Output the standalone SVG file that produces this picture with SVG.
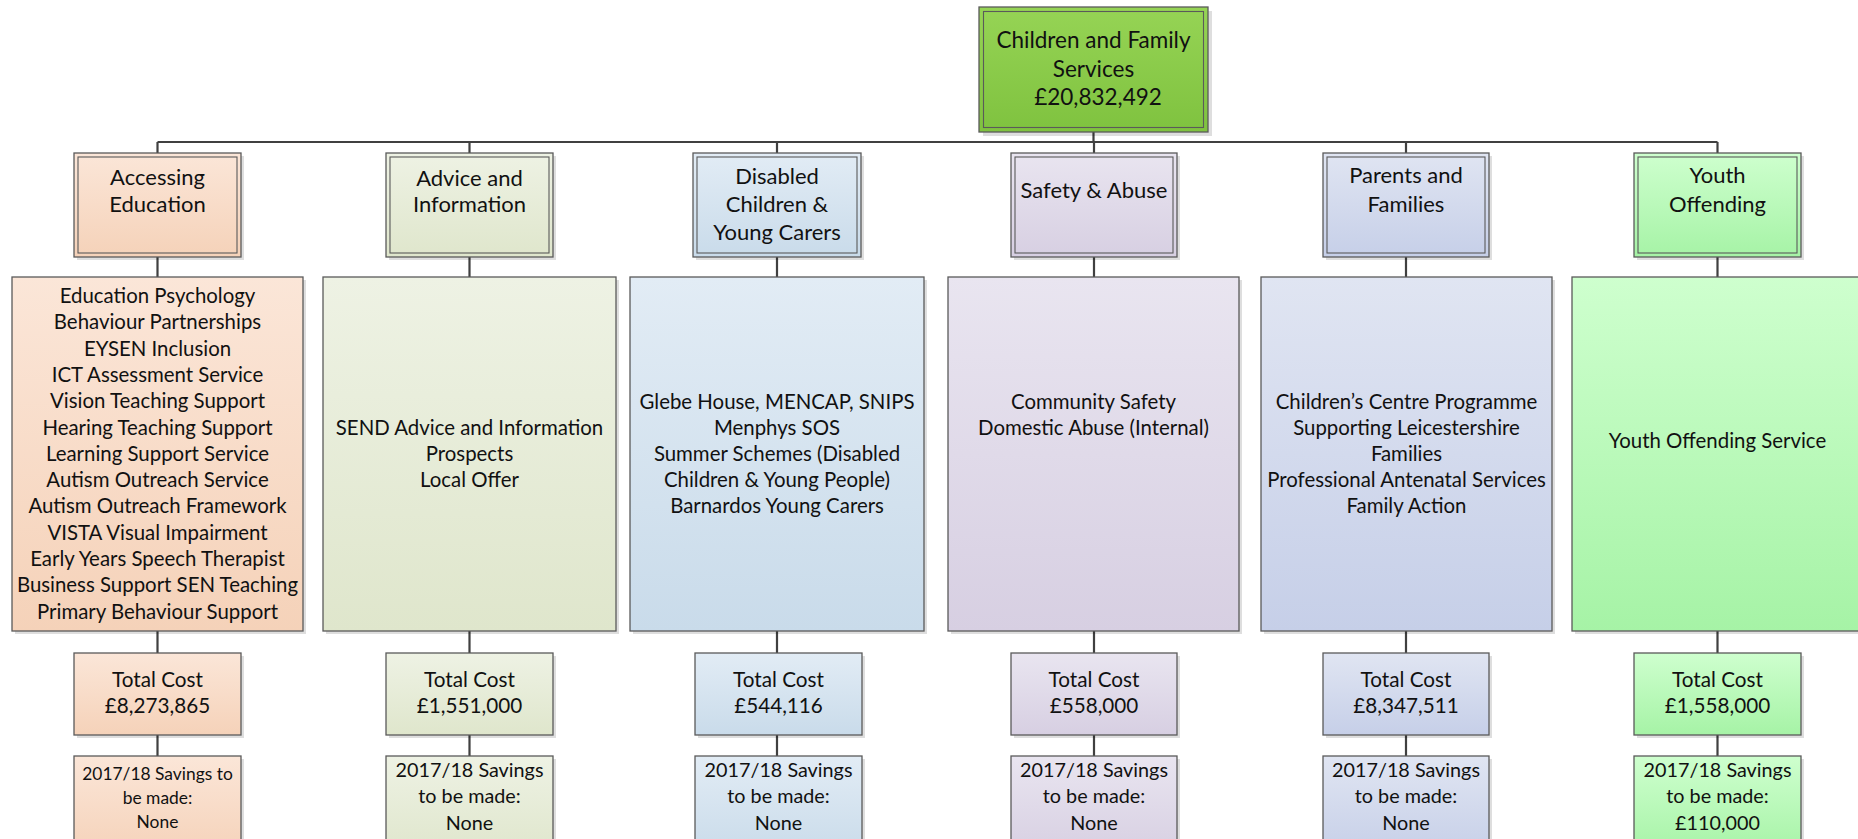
<svg xmlns="http://www.w3.org/2000/svg" width="1858" height="839" viewBox="0 0 1858 839">
  <style>
    .sh { fill: #000; opacity: 0.13; }
    .bx { stroke: #5a5a5a; stroke-width: 1.3; }
    .in { fill: none; stroke: #5a5a5a; stroke-width: 1.1; }
    .ln { stroke: #404040; stroke-width: 2.2; fill: none; }
    text { font-family: Lato, "Open Sans", sans-serif; font-size: 20.4px; fill: #111; text-anchor: middle; }
    .hd { font-size: 22px; }
    .tc { font-size: 20.7px; }
    .sm { font-size: 17.4px; }
    .sv { font-size: 19.8px; }
  </style>
  <defs>
    <linearGradient id="gTop" x1="0" y1="0" x2="0" y2="1"><stop offset="0" stop-color="#96d455"/><stop offset="1" stop-color="#7fc23f"/></linearGradient>
    <linearGradient id="gEdu" x1="0" y1="0" x2="0" y2="1"><stop offset="0" stop-color="#fbe6d8"/><stop offset="1" stop-color="#f5d2b9"/></linearGradient>
    <linearGradient id="gAdv" x1="0" y1="0" x2="0" y2="1"><stop offset="0" stop-color="#eef2e4"/><stop offset="1" stop-color="#dfe6cc"/></linearGradient>
    <linearGradient id="gDis" x1="0" y1="0" x2="0" y2="1"><stop offset="0" stop-color="#e2ecf5"/><stop offset="1" stop-color="#c9dbea"/></linearGradient>
    <linearGradient id="gSaf" x1="0" y1="0" x2="0" y2="1"><stop offset="0" stop-color="#e9e5f0"/><stop offset="1" stop-color="#d7cfe2"/></linearGradient>
    <linearGradient id="gPar" x1="0" y1="0" x2="0" y2="1"><stop offset="0" stop-color="#e0e5f2"/><stop offset="1" stop-color="#c6cfe8"/></linearGradient>
    <linearGradient id="gYou" x1="0" y1="0" x2="0" y2="1"><stop offset="0" stop-color="#ceffce"/><stop offset="1" stop-color="#a6f3a6"/></linearGradient>
  </defs>

  <rect width="1858" height="839" fill="#fff"/>

  <!-- connectors -->
  <g id="connectors">
    <line class="ln" x1="1093.5" y1="132" x2="1093.5" y2="142"/>
    <line class="ln" x1="157.5" y1="142" x2="1717.5" y2="142"/>
    <line class="ln" x1="157.5" y1="142" x2="157.5" y2="153"/>
    <line class="ln" x1="469.5" y1="142" x2="469.5" y2="153"/>
    <line class="ln" x1="777" y1="142" x2="777" y2="153"/>
    <line class="ln" x1="1094" y1="142" x2="1094" y2="153"/>
    <line class="ln" x1="1406" y1="142" x2="1406" y2="153"/>
    <line class="ln" x1="1717.5" y1="142" x2="1717.5" y2="153"/>
    <!-- category to detail / total / savings -->
    <path class="ln" d="M157.5 257V277M157.5 631V653M157.5 735V756"/>
    <path class="ln" d="M469.5 257V277M469.5 631V653M469.5 735V756"/>
    <path class="ln" d="M777 257V277M777 631V653M777 735V756"/>
    <path class="ln" d="M1094 257V277M1094 631V653M1094 735V756"/>
    <path class="ln" d="M1406 257V277M1406 631V653M1406 735V756"/>
    <path class="ln" d="M1717.5 257V277M1717.5 631V653M1717.5 735V756"/>
  </g>

  <!-- root -->
  <g id="root">
    <rect class="sh" x="983" y="11" width="229" height="125"/>
    <rect class="bx" x="979" y="7" width="229" height="125" fill="url(#gTop)"/>
    <rect class="in" x="983.5" y="11.5" width="220" height="116"/>
    <text x="1093.5" y="48" style="font-size:22.5px">Children and Family</text>
    <text x="1093.5" y="77" style="font-size:22.5px">Services</text>
    <text x="1098" y="105" style="font-size:22.5px">£20,832,492</text>
  </g>

  <!-- Accessing Education -->
  <g id="edu">
    <rect class="sh" x="77" y="156" width="167" height="104"/>
    <rect class="bx" x="74" y="153" width="167" height="104" fill="url(#gEdu)"/>
    <rect class="in" x="78" y="157" width="159" height="96"/>
    <text class="hd" x="157.5" y="185">Accessing</text>
    <text class="hd" x="157.5" y="212">Education</text>
  </g>
  <g id="edu-detail">
    <rect class="sh" x="15" y="280" width="291" height="354"/>
    <rect class="bx" x="12" y="277" width="291" height="354" fill="url(#gEdu)"/>
    <text x="157.5" y="303">Education Psychology</text>
    <text x="157.5" y="329.3">Behaviour Partnerships</text>
    <text x="157.5" y="355.6">EYSEN Inclusion</text>
    <text x="157.5" y="381.9">ICT Assessment Service</text>
    <text x="157.5" y="408.2">Vision Teaching Support</text>
    <text x="157.5" y="434.5">Hearing Teaching Support</text>
    <text x="157.5" y="460.8">Learning Support Service</text>
    <text x="157.5" y="487.1">Autism Outreach Service</text>
    <text x="157.5" y="513.4">Autism Outreach Framework</text>
    <text x="157.5" y="539.7">VISTA Visual Impairment</text>
    <text x="157.5" y="566">Early Years Speech Therapist</text>
    <text x="157.5" y="592.3">Business Support SEN Teaching</text>
    <text x="157.5" y="618.6">Primary Behaviour Support</text>
  </g>
  <g id="edu-cost">
    <rect class="sh" x="77" y="656" width="167" height="82"/>
    <rect class="bx" x="74" y="653" width="167" height="82" fill="url(#gEdu)"/>
    <text class="tc" x="157.5" y="687">Total Cost</text>
    <text class="tc" x="157.5" y="713">£8,273,865</text>
  </g>
  <g id="edu-savings">
    <rect class="sh" x="77" y="759" width="167" height="100"/>
    <rect class="bx" x="74" y="756" width="167" height="100" fill="url(#gEdu)"/>
    <text class="sm" x="157.5" y="780">2017/18 Savings to</text>
    <text class="sm" x="157.5" y="804">be made:</text>
    <text class="sm" x="157.5" y="828">None</text>
  </g>

  <!-- Advice and Information -->
  <g id="adv">
    <rect class="sh" x="389" y="156" width="167" height="104"/>
    <rect class="bx" x="386" y="153" width="167" height="104" fill="url(#gAdv)"/>
    <rect class="in" x="390" y="157" width="159" height="96"/>
    <text class="hd" x="469.5" y="186">Advice and</text>
    <text class="hd" x="469.5" y="212">Information</text>
  </g>
  <g id="adv-detail">
    <rect class="sh" x="326" y="280" width="293" height="354"/>
    <rect class="bx" x="323" y="277" width="293" height="354" fill="url(#gAdv)"/>
    <text x="469.5" y="435">SEND Advice and Information</text>
    <text x="469.5" y="461">Prospects</text>
    <text x="469.5" y="487">Local Offer</text>
  </g>
  <g id="adv-cost">
    <rect class="sh" x="389" y="656" width="167" height="82"/>
    <rect class="bx" x="386" y="653" width="167" height="82" fill="url(#gAdv)"/>
    <text class="tc" x="469.5" y="687">Total Cost</text>
    <text class="tc" x="469.5" y="713">£1,551,000</text>
  </g>
  <g id="adv-savings">
    <rect class="sh" x="389" y="759" width="167" height="100"/>
    <rect class="bx" x="386" y="756" width="167" height="100" fill="url(#gAdv)"/>
    <text class="sv" x="469.5" y="777">2017/18 Savings</text>
    <text class="sv" x="469.5" y="803">to be made:</text>
    <text class="sv" x="469.5" y="830">None</text>
  </g>

  <!-- Disabled Children & Young Carers -->
  <g id="dis">
    <rect class="sh" x="696" y="156" width="168" height="104"/>
    <rect class="bx" x="693" y="153" width="168" height="104" fill="url(#gDis)"/>
    <rect class="in" x="697" y="157" width="160" height="96"/>
    <text class="hd" x="777" y="184">Disabled</text>
    <text class="hd" x="777" y="212">Children &amp;</text>
    <text class="hd" x="777" y="240">Young Carers</text>
  </g>
  <g id="dis-detail">
    <rect class="sh" x="633" y="280" width="294" height="354"/>
    <rect class="bx" x="630" y="277" width="294" height="354" fill="url(#gDis)"/>
    <text x="777" y="409">Glebe House, MENCAP, SNIPS</text>
    <text x="777" y="435">Menphys SOS</text>
    <text x="777" y="461">Summer Schemes (Disabled</text>
    <text x="777" y="487">Children &amp; Young People)</text>
    <text x="777" y="513">Barnardos Young Carers</text>
  </g>
  <g id="dis-cost">
    <rect class="sh" x="698" y="656" width="167" height="82"/>
    <rect class="bx" x="695" y="653" width="167" height="82" fill="url(#gDis)"/>
    <text class="tc" x="778.5" y="687">Total Cost</text>
    <text class="tc" x="778.5" y="713">£544,116</text>
  </g>
  <g id="dis-savings">
    <rect class="sh" x="698" y="759" width="167" height="100"/>
    <rect class="bx" x="695" y="756" width="167" height="100" fill="url(#gDis)"/>
    <text class="sv" x="778.5" y="777">2017/18 Savings</text>
    <text class="sv" x="778.5" y="803">to be made:</text>
    <text class="sv" x="778.5" y="830">None</text>
  </g>

  <!-- Safety & Abuse -->
  <g id="saf">
    <rect class="sh" x="1014" y="156" width="166" height="104"/>
    <rect class="bx" x="1011" y="153" width="166" height="104" fill="url(#gSaf)"/>
    <rect class="in" x="1015" y="157" width="158" height="96"/>
    <text class="hd" x="1094" y="198">Safety &amp; Abuse</text>
  </g>
  <g id="saf-detail">
    <rect class="sh" x="951" y="280" width="291" height="354"/>
    <rect class="bx" x="948" y="277" width="291" height="354" fill="url(#gSaf)"/>
    <text x="1093.5" y="409">Community Safety</text>
    <text x="1093.5" y="435">Domestic Abuse (Internal)</text>
  </g>
  <g id="saf-cost">
    <rect class="sh" x="1014" y="656" width="166" height="82"/>
    <rect class="bx" x="1011" y="653" width="166" height="82" fill="url(#gSaf)"/>
    <text class="tc" x="1094" y="687">Total Cost</text>
    <text class="tc" x="1094" y="713">£558,000</text>
  </g>
  <g id="saf-savings">
    <rect class="sh" x="1014" y="759" width="166" height="100"/>
    <rect class="bx" x="1011" y="756" width="166" height="100" fill="url(#gSaf)"/>
    <text class="sv" x="1094" y="777">2017/18 Savings</text>
    <text class="sv" x="1094" y="803">to be made:</text>
    <text class="sv" x="1094" y="830">None</text>
  </g>

  <!-- Parents and Families -->
  <g id="par">
    <rect class="sh" x="1326" y="156" width="166" height="104"/>
    <rect class="bx" x="1323" y="153" width="166" height="104" fill="url(#gPar)"/>
    <rect class="in" x="1327" y="157" width="158" height="96"/>
    <text class="hd" x="1406" y="183">Parents and</text>
    <text class="hd" x="1406" y="212">Families</text>
  </g>
  <g id="par-detail">
    <rect class="sh" x="1264" y="280" width="291" height="354"/>
    <rect class="bx" x="1261" y="277" width="291" height="354" fill="url(#gPar)"/>
    <text x="1406.5" y="409">Children’s Centre Programme</text>
    <text x="1406.5" y="435">Supporting Leicestershire</text>
    <text x="1406.5" y="461">Families</text>
    <text x="1406.5" y="487">Professional Antenatal Services</text>
    <text x="1406.5" y="513">Family Action</text>
  </g>
  <g id="par-cost">
    <rect class="sh" x="1326" y="656" width="166" height="82"/>
    <rect class="bx" x="1323" y="653" width="166" height="82" fill="url(#gPar)"/>
    <text class="tc" x="1406" y="687">Total Cost</text>
    <text class="tc" x="1406" y="713">£8,347,511</text>
  </g>
  <g id="par-savings">
    <rect class="sh" x="1326" y="759" width="166" height="100"/>
    <rect class="bx" x="1323" y="756" width="166" height="100" fill="url(#gPar)"/>
    <text class="sv" x="1406" y="777">2017/18 Savings</text>
    <text class="sv" x="1406" y="803">to be made:</text>
    <text class="sv" x="1406" y="830">None</text>
  </g>

  <!-- Youth Offending -->
  <g id="you">
    <rect class="sh" x="1637" y="156" width="167" height="104"/>
    <rect class="bx" x="1634" y="153" width="167" height="104" fill="url(#gYou)"/>
    <rect class="in" x="1638" y="157" width="159" height="96"/>
    <text class="hd" x="1717.5" y="183">Youth</text>
    <text class="hd" x="1717.5" y="212">Offending</text>
  </g>
  <g id="you-detail">
    <rect class="sh" x="1575" y="280" width="291" height="354"/>
    <rect class="bx" x="1572" y="277" width="291" height="354" fill="url(#gYou)"/>
    <text x="1717.5" y="448">Youth Offending Service</text>
  </g>
  <g id="you-cost">
    <rect class="sh" x="1637" y="656" width="167" height="82"/>
    <rect class="bx" x="1634" y="653" width="167" height="82" fill="url(#gYou)"/>
    <text class="tc" x="1717.5" y="687">Total Cost</text>
    <text class="tc" x="1717.5" y="713">£1,558,000</text>
  </g>
  <g id="you-savings">
    <rect class="sh" x="1637" y="759" width="167" height="100"/>
    <rect class="bx" x="1634" y="756" width="167" height="100" fill="url(#gYou)"/>
    <text class="sv" x="1717.5" y="777">2017/18 Savings</text>
    <text class="sv" x="1717.5" y="803">to be made:</text>
    <text class="sv" x="1717.5" y="830">£110,000</text>
  </g>
</svg>
